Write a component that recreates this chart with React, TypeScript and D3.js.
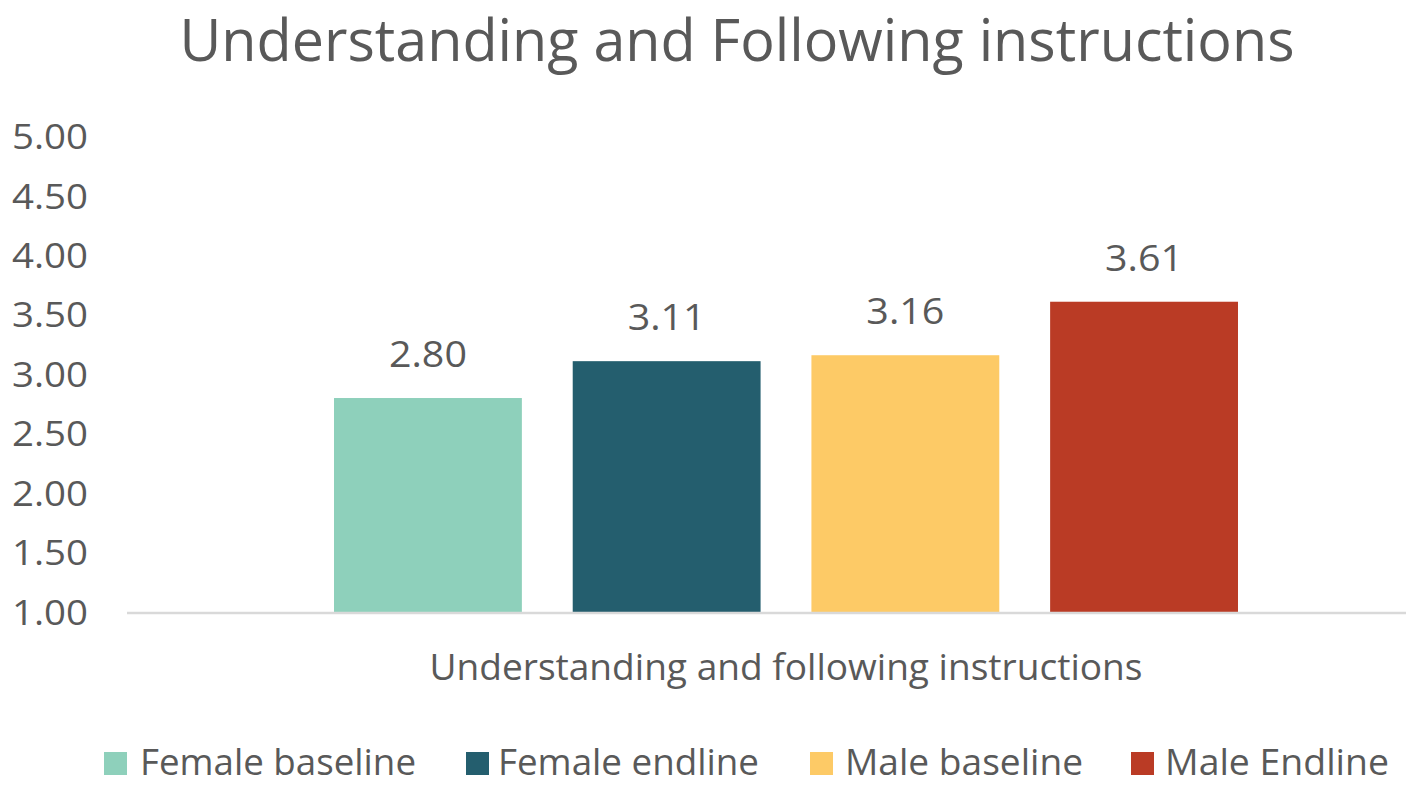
import React from "react";
import * as d3 from "d3";

// Chart data
const categories = ["Understanding and following instructions"];
const seriesNames = ["Female baseline", "Female endline", "Male baseline", "Male Endline"];
const seriesValues = [2.8, 3.11, 3.16, 3.61];
const seriesColors = ["#8ED0BB", "#245E6E", "#FDCA66", "#BA3B25"];
const yTicks = [1.0, 1.5, 2.0, 2.5, 3.0, 3.5, 4.0, 4.5, 5.0];
const titleText = "Understanding and Following instructions";

const W = 1415;
const H = 785;
const FONT = "'Open Sans', 'Noto Sans', sans-serif";
const TEXT = "#595959";

// Legend layout: swatch x, text x, text width
const legendLayout = [
  { sx: 104, tx: 140, tw: 276 },
  { sx: 466, tx: 498, tw: 261 },
  { sx: 810, tx: 845, tw: 238 },
  { sx: 1131, tx: 1165, tw: 224 },
];

export default function App() {
  const plotLeft = 127;
  const plotRight = 1406;
  const y = d3.scaleLinear().domain([1, 5]).range([612, 136.5]);
  const x0 = d3
    .scaleBand<string>()
    .domain(categories)
    .range([plotLeft, 1445])
    .paddingInner(0)
    .paddingOuter(0.229);
  const x1 = d3
    .scaleBand<string>()
    .domain(seriesNames)
    .range([0, x0.bandwidth()])
    .paddingInner(0.213)
    .paddingOuter(0);
  const fmt = d3.format(".2f");

  return (
    <svg
      width={W}
      height={H}
      style={{ position: "fixed", left: 0, top: 0, background: "#fff" }}
      fontFamily={FONT}
    >
      <rect width={W} height={H} fill="#fff" />
      <text
        x={737}
        y={61}
        textAnchor="middle"
        fontSize={58}
        fill={TEXT}
        textLength={1115}
        lengthAdjust="spacingAndGlyphs"
      >
        {titleText}
      </text>

      {/* y-axis tick labels */}
      {yTicks.map((t) => (
        <text
          key={t}
          x={88}
          y={y(t)}
          dy="0.36em"
          textAnchor="end"
          fontSize={35}
          fill={TEXT}
          textLength={76}
          lengthAdjust="spacingAndGlyphs"
        >
          {fmt(t)}
        </text>
      ))}

      {/* bars and value labels */}
      {categories.map((c) => (
        <g key={c} transform={`translate(${x0(c)},0)`}>
          {seriesNames.map((s, i) => {
            const v = seriesValues[i];
            const bx = x1(s)!;
            const bw = x1.bandwidth();
            return (
              <g key={s}>
                <rect x={bx} y={y(v)} width={bw} height={y(1) - y(v)} fill={seriesColors[i]} />
                <text
                  x={bx + bw / 2}
                  y={y(v) - 31}
                  textAnchor="middle"
                  fontSize={37}
                  fill={TEXT}
                  textLength={78}
                  lengthAdjust="spacingAndGlyphs"
                >
                  {fmt(v)}
                </text>
              </g>
            );
          })}
        </g>
      ))}

      {/* category axis */}
      <line x1={plotLeft} x2={plotRight} y1={y(1) + 1} y2={y(1) + 1} stroke="#D9D9D9" strokeWidth={2.5} />
      {categories.map((c) => (
        <text
          key={c}
          x={x0(c)! + x0.bandwidth() / 2}
          y={680}
          textAnchor="middle"
          fontSize={37}
          fill={TEXT}
          textLength={713}
          lengthAdjust="spacingAndGlyphs"
        >
          {c}
        </text>
      ))}

      {/* legend */}
      {seriesNames.map((s, i) => (
        <g key={s}>
          <rect x={legendLayout[i].sx} y={752} width={23} height={23} fill={seriesColors[i]} />
          <text
            x={legendLayout[i].tx}
            y={775}
            fontSize={36}
            fill={TEXT}
            textLength={legendLayout[i].tw}
            lengthAdjust="spacingAndGlyphs"
          >
            {s}
          </text>
        </g>
      ))}
    </svg>
  );
}
